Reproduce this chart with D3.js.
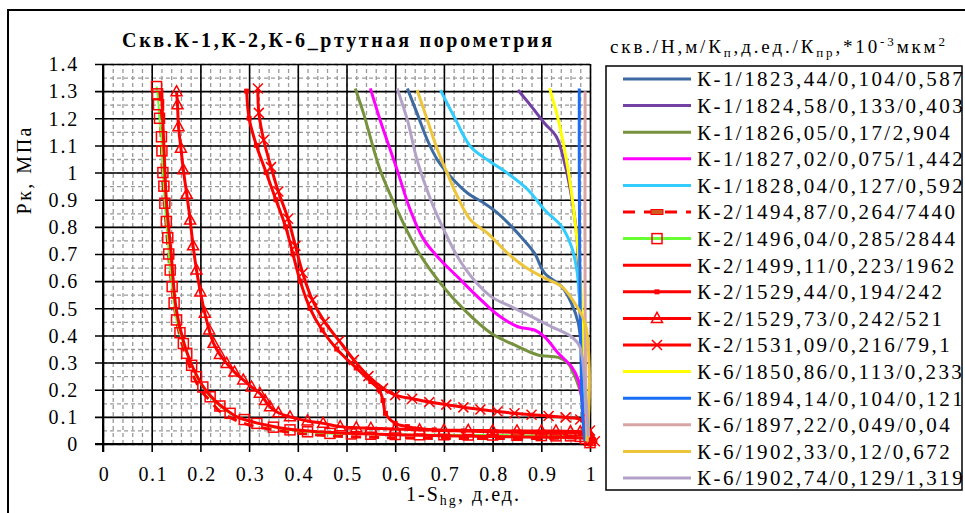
<!DOCTYPE html>
<html><head><meta charset="utf-8">
<script src="https://cdn.jsdelivr.net/npm/d3@7"></script>
<style>
body{margin:0;background:#fff;}
svg{display:block;font-family:"Liberation Serif","Times New Roman",serif;}
text{font-family:"Liberation Serif","Times New Roman",serif;}
</style></head>
<body><svg id="c" width="965" height="513"></svg>
<script>
// ---------- DATA ----------
const chartTitle = "Скв.К-1,К-2,К-6_ртутная порометрия";
const xTicks = [0,0.1,0.2,0.3,0.4,0.5,0.6,0.7,0.8,0.9,1];
const xTickLabels = ["0","0.1","0.2","0.3","0.4","0.5","0.6","0.7","0.8","0.9","1"];
const yTicks = [0,0.1,0.2,0.3,0.4,0.5,0.6,0.7,0.8,0.9,1,1.1,1.2,1.3,1.4];
const yTickLabels = ["0","0.1","0.2","0.3","0.4","0.5","0.6","0.7","0.8","0.9","1","1.1","1.2","1.3","1.4"];
const seriesNames = [
 "К-1/1823,44/0,104/0,587","К-1/1824,58/0,133/0,403","К-1/1826,05/0,17/2,904",
 "К-1/1827,02/0,075/1,442","К-1/1828,04/0,127/0,592","К-2/1494,87/0,264/7440",
 "К-2/1496,04/0,285/2844","К-2/1499,11/0,223/1962","К-2/1529,44/0,194/242",
 "К-2/1529,73/0,242/521","К-2/1531,09/0,216/79,1","К-6/1850,86/0,113/0,233",
 "К-6/1894,14/0,104/0,121","К-6/1897,22/0,049/0,04","К-6/1902,33/0,12/0,672",
 "К-6/1902,74/0,129/1,319"];

const k1_1823 = [[0.625,1.31],[0.645,1.218],[0.666,1.12],[0.687,1.046],[0.714,0.985],[0.749,0.924],[0.783,0.887],[0.811,0.85],[0.852,0.776],[0.886,0.703],[0.907,0.629],[0.942,0.58],[0.962,0.518],[0.976,0.445],[0.983,0.334],[0.99,0.15],[0.997,0.027]];
const k1_1824 = [[0.852,1.304],[0.88,1.243],[0.907,1.181],[0.931,1.132],[0.948,1.034],[0.962,0.911],[0.973,0.764],[0.979,0.518],[0.986,0.211],[0.992,0.02]];
const k1_1826 = [[0.518,1.31],[0.535,1.218],[0.569,1.01],[0.604,0.862],[0.645,0.715],[0.693,0.592],[0.742,0.494],[0.797,0.408],[0.852,0.359],[0.893,0.328],[0.935,0.319],[0.955,0.297],[0.972,0.236],[0.983,0.174],[0.993,0.06],[1.0,0.015]];
const k1_1827 = [[0.549,1.31],[0.569,1.194],[0.604,1.01],[0.631,0.862],[0.659,0.752],[0.693,0.678],[0.728,0.616],[0.769,0.543],[0.811,0.475],[0.852,0.432],[0.886,0.42],[0.907,0.395],[0.935,0.334],[0.962,0.285],[0.976,0.236],[0.99,0.08],[0.998,0.01]];
const k1_1828 = [[0.693,1.304],[0.721,1.206],[0.755,1.095],[0.79,1.046],[0.831,0.997],[0.873,0.936],[0.907,0.862],[0.942,0.801],[0.962,0.727],[0.973,0.641],[0.979,0.518],[0.986,0.273],[0.995,0.02]];
const k2_1494 = [[0.115,1.30],[0.118,1.2],[0.122,1.0],[0.13,0.8],[0.14,0.6],[0.155,0.42],[0.175,0.3],[0.2,0.2],[0.22,0.16],[0.24,0.12],[0.27,0.09],[0.3,0.07],[0.35,0.052],[0.4,0.04],[0.47,0.03],[0.55,0.025],[0.62,0.022],[0.7,0.02],[0.8,0.02],[0.9,0.02],[0.96,0.022],[0.99,0.02],[1.01,0.01],[1.0,0.0]];
const k2_1496 = [[0.11,1.317],[0.112,1.29],[0.114,1.25],[0.116,1.2],[0.12,1.132],[0.121,1.08],[0.123,1.0],[0.125,0.95],[0.127,0.887],[0.13,0.82],[0.133,0.76],[0.135,0.7],[0.138,0.641],[0.142,0.58],[0.146,0.52],[0.151,0.457],[0.158,0.41],[0.165,0.37],[0.172,0.334],[0.182,0.29],[0.192,0.248],[0.205,0.21],[0.22,0.174],[0.24,0.14],[0.261,0.113],[0.29,0.09],[0.316,0.076],[0.35,0.062],[0.384,0.052],[0.42,0.045],[0.466,0.039],[0.51,0.037],[0.55,0.036],[0.6,0.035],[0.65,0.034],[0.7,0.034],[0.75,0.033],[0.8,0.033],[0.85,0.032],[0.9,0.031],[0.93,0.03],[0.96,0.03],[0.98,0.028],[0.99,0.02],[1.0,0.005]];
const k2_1499 = [[0.12,1.3],[0.125,1.1],[0.13,0.9],[0.14,0.7],[0.15,0.5],[0.165,0.38],[0.185,0.28],[0.21,0.2],[0.23,0.16],[0.25,0.13],[0.275,0.1],[0.3,0.085],[0.34,0.068],[0.38,0.055],[0.44,0.045],[0.5,0.04],[0.6,0.034],[0.7,0.03],[0.8,0.028],[0.9,0.025],[0.98,0.022],[1.005,0.015],[1.0,0.002]];
const k2_1529_44 = [[0.295,1.3],[0.3,1.2],[0.315,1.1],[0.335,1.0],[0.355,0.9],[0.375,0.8],[0.39,0.7],[0.405,0.6],[0.425,0.5],[0.45,0.42],[0.48,0.35],[0.52,0.28],[0.55,0.23],[0.567,0.2],[0.575,0.16],[0.58,0.113],[0.6,0.076],[0.625,0.064],[0.68,0.052],[0.74,0.048],[0.8,0.045],[0.86,0.042],[0.9,0.04],[0.95,0.04],[0.98,0.04],[1.0,0.03],[1.01,0.01],[1.0,0.0]];
const k2_1529_73 = [[0.151,1.298],[0.153,1.25],[0.155,1.169],[0.16,1.09],[0.165,1.01],[0.172,0.92],[0.179,0.825],[0.185,0.73],[0.192,0.641],[0.2,0.56],[0.209,0.482],[0.218,0.42],[0.227,0.371],[0.24,0.33],[0.254,0.297],[0.27,0.265],[0.288,0.236],[0.305,0.21],[0.322,0.187],[0.333,0.16],[0.343,0.137],[0.36,0.115],[0.384,0.1],[0.42,0.085],[0.452,0.076],[0.487,0.064],[0.52,0.06],[0.55,0.058],[0.6,0.055],[0.65,0.052],[0.7,0.051],[0.75,0.05],[0.8,0.049],[0.85,0.048],[0.9,0.048],[0.93,0.048],[0.96,0.046],[0.98,0.045],[1.0,0.03],[1.0,0.01]];
const k2_1531 = [[0.318,1.31],[0.32,1.22],[0.33,1.12],[0.345,1.02],[0.36,0.93],[0.38,0.83],[0.395,0.73],[0.41,0.63],[0.43,0.53],[0.455,0.45],[0.485,0.38],[0.515,0.31],[0.545,0.25],[0.575,0.205],[0.6,0.18],[0.635,0.167],[0.67,0.155],[0.705,0.145],[0.74,0.135],[0.775,0.127],[0.81,0.12],[0.845,0.113],[0.88,0.108],[0.915,0.103],[0.95,0.098],[0.98,0.09],[1.0,0.05],[1.01,0.01]];
const k6_1850 = [[0.917,1.31],[0.935,1.194],[0.955,1.01],[0.969,0.825],[0.979,0.641],[0.986,0.395],[0.993,0.15],[0.997,0.025]];
const k6_1894 = [[0.978,1.31],[0.978,1.0],[0.98,0.5],[0.985,0.1],[0.99,0.01]];
const k6_1897 = [[0.99,1.3],[0.99,0.5],[0.993,0.05],[0.995,0.01]];
const k6_1902_33 = [[0.645,1.304],[0.666,1.194],[0.687,1.083],[0.707,0.997],[0.728,0.911],[0.755,0.825],[0.79,0.776],[0.831,0.703],[0.866,0.653],[0.907,0.611],[0.942,0.58],[0.969,0.518],[0.99,0.445],[0.998,0.3],[0.997,0.1],[0.993,0.01]];
const k6_1902_74 = [[0.604,1.31],[0.625,1.194],[0.645,1.046],[0.673,0.899],[0.7,0.789],[0.728,0.69],[0.762,0.604],[0.797,0.543],[0.838,0.506],[0.88,0.469],[0.921,0.432],[0.962,0.395],[0.979,0.359],[0.99,0.2],[0.997,0.027]];

const seriesData = [k1_1823,k1_1824,k1_1826,k1_1827,k1_1828,k2_1494,k2_1496,k2_1499,k2_1529_44,k2_1529_73,k2_1531,k6_1850,k6_1894,k6_1897,k6_1902_33,k6_1902_74];

// ---------- STYLES ----------
const styles = [
 {c:"#3e6aa2",w:3},{c:"#7341a6",w:3},{c:"#76923c",w:3},{c:"#ff00ff",w:3},{c:"#33ccff",w:3},
 {c:"#ff0000",w:3,dash:"10,8",m:"rectDash"},
 {c:"#66ff33",w:2,m:"openSquare"},
 {c:"#ff0000",w:3},
 {c:"#ff0000",w:3,m:"smallSquare"},
 {c:"#ff0000",w:3,m:"triangle"},
 {c:"#ff0000",w:3,m:"cross"},
 {c:"#ffff00",w:3},{c:"#1a6ef5",w:3},{c:"#d8a5a5",w:3},{c:"#eec43a",w:3},{c:"#b3a2c7",w:3}
];

const svg = d3.select("#c");
const x = d3.scaleLinear().domain([0,1]).range([103,590]);
const y = d3.scaleLinear().domain([0,1.4]).range([444,64]);

// outer border
svg.append("rect").attr("x",8).attr("y",10).attr("width",1000).attr("height",600)
  .attr("fill","none").attr("stroke","#000").attr("stroke-width",2);

// minor grid
const minorX = d3.range(0,1.0001,0.02);
const minorY = d3.range(0,1.4001,0.05);
svg.append("g").attr("transform","translate(0,444)")
  .call(d3.axisBottom(x).tickValues(minorX).tickSize(-380).tickFormat(""))
  .call(g=>{g.select(".domain").remove();g.selectAll("line").attr("stroke","#9a9a9a").attr("stroke-width",1.3).attr("stroke-dasharray","4,3");});
svg.append("g").attr("transform","translate(103,0)")
  .call(d3.axisLeft(y).tickValues(minorY).tickSize(-487).tickFormat(""))
  .call(g=>{g.select(".domain").remove();g.selectAll("line").attr("stroke","#9a9a9a").attr("stroke-width",1.3).attr("stroke-dasharray","4,3");});

// major grid with ticks
const gx = svg.append("g").attr("transform","translate(0,444)")
  .call(d3.axisBottom(x).tickValues(xTicks).tickSize(-380).tickFormat(""));
gx.select(".domain").remove();
gx.selectAll("line").attr("stroke","#000").attr("stroke-width",1.6).attr("y2",-380).attr("y1",8);
const gy = svg.append("g").attr("transform","translate(103,0)")
  .call(d3.axisLeft(y).tickValues(yTicks).tickSize(-487).tickFormat(""));
gy.select(".domain").remove();
gy.selectAll("line").attr("stroke","#000").attr("stroke-width",1.6).attr("x1",-8).attr("x2",487);
svg.append("line").attr("x1",103).attr("x2",103).attr("y1",64).attr("y2",452).attr("stroke","#000").attr("stroke-width",2);
svg.append("line").attr("x1",95).attr("x2",590).attr("y1",444).attr("y2",444).attr("stroke","#000").attr("stroke-width",2);

// tick labels
const xlab = svg.append("g").attr("transform","translate(0,444)")
  .call(d3.axisBottom(x).tickValues(xTicks).tickSize(0).tickPadding(0).tickFormat((d,i)=>xTickLabels[i]));
xlab.select(".domain").remove();
xlab.attr("font-family",null);
xlab.selectAll("text").attr("font-family","Liberation Serif").attr("font-size",20).attr("fill","#000")
  .attr("y",37).attr("dy",0).attr("letter-spacing","1.5px").attr("dx","1");
const ylab = svg.append("g").attr("transform","translate(103,0)")
  .call(d3.axisLeft(y).tickValues(yTicks).tickSize(0).tickPadding(0).tickFormat((d,i)=>yTickLabels[i]));
ylab.select(".domain").remove();
ylab.attr("font-family",null);
ylab.selectAll("text").attr("font-family","Liberation Serif").attr("font-size",20).attr("fill","#000")
  .attr("x",-24).attr("dy","0.34em").attr("letter-spacing","1.8px");

// series
const line = d3.line().x(d=>x(d[0])).y(d=>y(d[1])).curve(d3.curveCatmullRom.alpha(0.5));
const plot = svg.append("g");
function drawMarker(g, type, cx, cy, col){
  if(type==="openSquare") g.append("rect").attr("x",cx-5).attr("y",cy-5).attr("width",10).attr("height",10).attr("fill","none").attr("stroke",col).attr("stroke-width",1.5);
  else if(type==="smallSquare") g.append("rect").attr("x",cx-2.5).attr("y",cy-2.5).attr("width",5).attr("height",5).attr("fill",col);
  else if(type==="triangle") g.append("path").attr("d",`M${cx},${cy-6}L${cx+5.5},${cy+4}L${cx-5.5},${cy+4}Z`).attr("fill","none").attr("stroke",col).attr("stroke-width",1.5);
  else if(type==="cross") g.append("path").attr("d",`M${cx-5},${cy-5}L${cx+5},${cy+5}M${cx-5},${cy+5}L${cx+5},${cy-5}`).attr("stroke",col).attr("stroke-width",1.5);
}
seriesData.forEach((data,i)=>{
  const s = styles[i];
  plot.append("path").attr("d",line(data)).attr("fill","none").attr("stroke",s.c)
    .attr("stroke-width",s.w).attr("stroke-dasharray",s.dash||null).attr("stroke-linejoin","round");
  if(s.m && s.m!=="rectDash"){
    const g = plot.append("g");
    data.forEach(d=>drawMarker(g,s.m,x(d[0]),y(d[1]),"#ff0000"));
  }
});

// title
svg.append("text").attr("x",337).attr("y",47).attr("text-anchor","middle")
  .attr("font-size",20).attr("font-weight","bold").attr("textLength",430).attr("lengthAdjust","spacing")
  .text(chartTitle);

// y axis label
svg.append("text").attr("transform","translate(31,171) rotate(-90)").attr("text-anchor","middle")
  .attr("font-size",20).attr("textLength",87).attr("lengthAdjust","spacing").text("Рк, МПа");

// x axis label
const xl = svg.append("text").attr("x",406).attr("y",501).attr("font-size",20)
  .attr("textLength",113).attr("lengthAdjust","spacing");
xl.append("tspan").text("1-S");
xl.append("tspan").attr("font-size",14).attr("dy",4).text("hg");
xl.append("tspan").attr("dy",-4).text(", д.ед.");

// legend title
const lt = svg.append("text").attr("x",610).attr("y",53).attr("font-size",19)
  .attr("textLength",335).attr("lengthAdjust","spacing");
lt.append("tspan").text("скв./Н,м/К");
lt.append("tspan").attr("font-size",13).attr("dy",4).text("п");
lt.append("tspan").attr("dy",-4).text(",д.ед./К");
lt.append("tspan").attr("font-size",13).attr("dy",4).text("пр");
lt.append("tspan").attr("dy",-4).text(",*10");
lt.append("tspan").attr("font-size",13).attr("dy",-7).text("-3");
lt.append("tspan").attr("dy",7).text("мкм");
lt.append("tspan").attr("font-size",13).attr("dy",-7).text("2");

// legend box
svg.append("rect").attr("x",606).attr("y",66).attr("width",356).attr("height",424)
  .attr("fill","#fff").attr("stroke","#000").attr("stroke-width",1.5);
const rowY = d3.scalePoint().domain(d3.range(seriesNames.length)).range([79,478]);
const lg = svg.append("g");
seriesNames.forEach((name,i)=>{
  const s = styles[i], yy = rowY(i);
  lg.append("line").attr("x1",623).attr("x2",691).attr("y1",yy).attr("y2",yy)
    .attr("stroke",s.c).attr("stroke-width",3).attr("stroke-dasharray",s.dash?"12,9":null);
  if(s.m==="rectDash") lg.append("rect").attr("x",651).attr("y",yy-2.5).attr("width",12).attr("height",5).attr("fill","#d05a20").attr("stroke","#ff0000").attr("stroke-width",1);
  else if(s.m) drawMarker(lg,s.m,657,yy,"#ff0000");
  lg.append("text").attr("x",697).attr("y",yy).attr("dy","0.35em").attr("font-size",21)
    .attr("letter-spacing","2.45px").text(name);
});
</script></body></html>
